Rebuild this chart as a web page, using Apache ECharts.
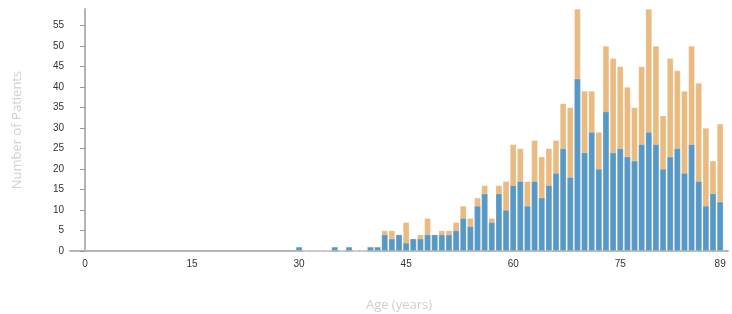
<!DOCTYPE html>
<html>
<head>
<meta charset="utf-8">
<script src="https://cdn.jsdelivr.net/npm/echarts@6/dist/echarts.min.js"></script>
<style>
html,body{margin:0;padding:0;background:#fff;}
#chart{width:732px;height:314px;}
</style>
</head>
<body>
<div id="chart"></div>
<script>
// counts from age 30 onwards (blue = first group, total = stacked top incl. orange)
var startAge = 30;
var blueVals  = [1,0,0,0,0,1,0,1,0,0,1,1,4,3,4,2,3,3,4,4,4,4,5,8,6,11,14,7,14,10,16,17,11,17,13,16,19,25,18,42,24,29,20,34,24,25,23,22,26,29,26,20,23,25,19,26,17,11,14,12];
var totalVals = [1,0,0,0,0,1,0,1,0,0,1,1,5,5,4,7,3,4,8,4,5,5,7,11,8,13,16,8,16,17,26,25,17,27,23,25,27,36,35,59,39,39,29,50,47,45,40,35,45,59,50,33,47,44,39,50,41,30,22,31];
var xLabels = [0,15,30,45,60,75,89];
var yLabels = [0,5,10,15,20,25,30,35,40,45,50,55];

var blueData = [], totalData = [];
for (var i = 0; i < blueVals.length; i++) {
    var age = startAge + i;
    blueData.push([age, blueVals[i]]);
    totalData.push([age, totalVals[i]]);
}

var myChart = echarts.init(document.getElementById('chart'));
var option = {
    animation: false,
    grid: {left: 70, right: 4, top: 9, bottom: 63, outerBoundsMode: 'none'},
    xAxis: {
        type: 'value',
        min: -2.1,
        max: 90.1,
        name: 'Age (years)',
        nameLocation: 'middle',
        nameGap: 48,
        nameTextStyle: {color: '#cfcfcf', fontSize: 13, fontFamily: 'Open Sans'},
        axisLine: {show: true, lineStyle: {color: '#b5b5b5', width: 2}},
        axisTick: {show: false},
        splitLine: {show: false},
        axisLabel: {customValues: xLabels, color: '#333', fontSize: 10, margin: 8, fontFamily: 'Liberation Sans'}
    },
    yAxis: {
        type: 'value',
        min: 0,
        max: 59,
        name: 'Number of Patients',
        nameLocation: 'middle',
        nameGap: 46,
        nameRotate: 90,
        nameTextStyle: {color: '#cfcfcf', fontSize: 13, fontFamily: 'Open Sans'},
        axisLine: {show: true, lineStyle: {color: '#b5b5b5', width: 2}},
        axisTick: {show: true, customValues: yLabels, length: 5, lineStyle: {color: '#999'}},
        splitLine: {show: false},
        axisLabel: {customValues: yLabels, color: '#333', fontSize: 10, margin: 6, fontFamily: 'Liberation Sans'}
    },
    series: [
        {
            // total height (orange part shows above the blue)
            type: 'bar',
            barWidth: 6.4,
            barGap: '-100%',
            data: totalData,
            itemStyle: {color: '#e9bb80', borderColor: 'rgba(255,255,255,0.35)', borderWidth: 0.6}
        },
        {
            type: 'bar',
            barWidth: 6.4,
            barGap: '-100%',
            data: blueData,
            itemStyle: {color: '#5599c8', borderColor: 'rgba(255,255,255,0.35)', borderWidth: 0.6}
        }
    ]
};
myChart.setOption(option);
</script>
</body>
</html>
